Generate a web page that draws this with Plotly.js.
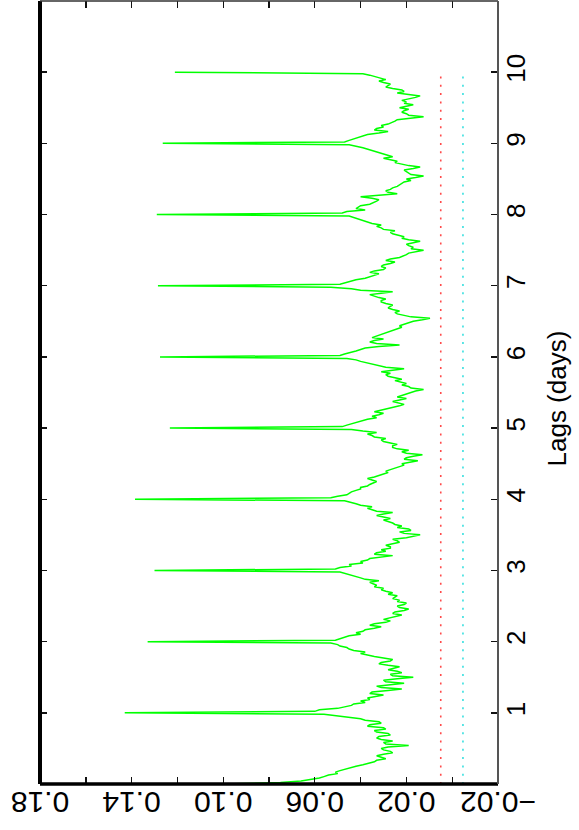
<!DOCTYPE html>
<html>
<head>
<meta charset="utf-8">
<script src="https://cdn.plot.ly/plotly-3.0.1.min.js"></script>
<style>html,body{margin:0;padding:0;background:#fff;}#chart{width:579px;height:830px;}</style>
</head>
<body>
<div id="chart"></div>
<script>
// Autocorrelation values, half-hour lag steps (48 per day)
const acfDay0 = [0.100,0.075,0.066,0.061,0.058,0.056,0.054,0.050,0.051,0.049,0.047,0.044,0.042,0.039,0.036,0.034,0.033,0.029,0.031,0.033,0.030,0.026,0.027,0.030,0.031,0.028,0.019,0.029,0.030,0.026,0.031,0.033,0.032,0.027,0.028,0.033,0.034,0.029,0.030,0.037,0.036,0.031,0.032,0.038,0.040,0.046,0.052,0.056];
const acfDay1 = [0.143,0.060,0.058,0.050,0.047,0.044,0.043,0.038,0.040,0.036,0.037,0.033,0.030,0.036,0.035,0.028,0.022,0.031,0.033,0.027,0.021,0.029,0.030,0.024,0.017,0.026,0.027,0.022,0.024,0.028,0.026,0.023,0.028,0.032,0.031,0.027,0.026,0.031,0.034,0.037,0.040,0.038,0.043,0.045,0.046,0.049,0.050,0.053];
const acfDay2 = [0.133,0.051,0.049,0.047,0.045,0.040,0.042,0.039,0.038,0.034,0.031,0.036,0.034,0.029,0.027,0.030,0.027,0.024,0.022,0.026,0.025,0.021,0.019,0.023,0.024,0.021,0.020,0.024,0.023,0.026,0.025,0.024,0.028,0.026,0.029,0.031,0.030,0.034,0.033,0.035,0.036,0.032,0.038,0.040,0.042,0.044,0.046,0.049];
const acfDay3 = [0.130,0.051,0.049,0.044,0.045,0.039,0.040,0.037,0.036,0.031,0.026,0.034,0.033,0.029,0.031,0.027,0.027,0.029,0.026,0.023,0.024,0.026,0.020,0.017,0.014,0.021,0.023,0.018,0.019,0.024,0.022,0.025,0.026,0.028,0.030,0.027,0.031,0.033,0.030,0.026,0.033,0.035,0.037,0.035,0.040,0.042,0.044,0.047];
const acfDay4 = [0.1385,0.053,0.050,0.046,0.045,0.044,0.042,0.040,0.040,0.037,0.036,0.034,0.033,0.035,0.037,0.034,0.032,0.030,0.028,0.029,0.027,0.025,0.024,0.021,0.022,0.019,0.015,0.021,0.020,0.017,0.013,0.020,0.022,0.019,0.024,0.026,0.026,0.024,0.028,0.030,0.031,0.029,0.034,0.035,0.037,0.033,0.039,0.044];
const acfDay5 = [0.1233,0.048,0.046,0.044,0.042,0.039,0.037,0.033,0.035,0.032,0.030,0.034,0.031,0.028,0.025,0.023,0.021,0.024,0.026,0.023,0.020,0.024,0.022,0.019,0.018,0.016,0.0125,0.018,0.019,0.022,0.020,0.023,0.025,0.022,0.026,0.028,0.029,0.027,0.031,0.027,0.021,0.029,0.032,0.035,0.037,0.040,0.042,0.046];
const acfDay6 = [0.1276,0.049,0.047,0.044,0.042,0.040,0.038,0.032,0.023,0.033,0.036,0.034,0.030,0.035,0.033,0.031,0.030,0.027,0.026,0.024,0.022,0.023,0.021,0.019,0.017,0.013,0.0097,0.018,0.022,0.024,0.025,0.023,0.026,0.028,0.027,0.026,0.029,0.031,0.031,0.029,0.032,0.034,0.036,0.031,0.026,0.040,0.044,0.053];
const acfDay7 = [0.1285,0.049,0.047,0.045,0.042,0.038,0.036,0.034,0.032,0.036,0.034,0.030,0.029,0.031,0.030,0.027,0.025,0.029,0.027,0.023,0.021,0.020,0.019,0.016,0.0125,0.018,0.017,0.019,0.020,0.017,0.014,0.019,0.022,0.021,0.024,0.026,0.027,0.025,0.030,0.031,0.033,0.031,0.035,0.037,0.038,0.040,0.042,0.045];
const acfDay8 = [0.129,0.048,0.046,0.038,0.042,0.041,0.040,0.036,0.034,0.033,0.032,0.035,0.040,0.030,0.024,0.028,0.029,0.027,0.026,0.024,0.023,0.022,0.021,0.018,0.020,0.016,0.0125,0.018,0.019,0.020,0.021,0.017,0.014,0.019,0.022,0.025,0.024,0.027,0.030,0.026,0.028,0.031,0.033,0.034,0.036,0.039,0.042,0.045];
const acfDay9 = [0.1264,0.047,0.045,0.043,0.041,0.039,0.037,0.032,0.028,0.034,0.033,0.030,0.031,0.028,0.026,0.025,0.024,0.018,0.0125,0.019,0.020,0.022,0.021,0.019,0.023,0.020,0.017,0.021,0.020,0.022,0.018,0.016,0.014,0.020,0.024,0.021,0.022,0.026,0.029,0.028,0.027,0.030,0.032,0.029,0.031,0.034,0.036,0.039];
const acfDay10 = [0.1211];
const lagStepDays = 1 / 48;

// Significance levels (dotted lines) and their lag span
const sigLags = [0, 10];
const sigUpper = [0.005, 0.005];
const sigLower = [-0.0047, -0.0047];

// Tick labels
const acfTickVals = [0.18, 0.16, 0.14, 0.12, 0.10, 0.08, 0.06, 0.04, 0.02, 0.00, -0.02];
const acfTickText = ['0.18', '', '0.14', '', '0.10', '', '0.06', '', '0.02', '', '\u22120.02'];
const lagTickVals = [1, 2, 3, 4, 5, 6, 7, 8, 9, 10];
const lagTickText = ['1', '2', '3', '4', '5', '6', '7', '8', '9', '10'];
const lagTitle = 'Lags (days)';

const acf = [].concat(acfDay0, acfDay1, acfDay2, acfDay3, acfDay4, acfDay5, acfDay6, acfDay7, acfDay8, acfDay9, acfDay10);
const lags = acf.map((_, i) => i * lagStepDays);

const traces = [
  {x: sigUpper, y: sigLags, mode: 'lines', line: {color: '#ff4a4a', width: 1.6, dash: '2px,6.3px'}, hoverinfo: 'skip'},
  {x: sigLower, y: sigLags, mode: 'lines', line: {color: '#38e0e0', width: 1.6, dash: '2px,6.3px'}, hoverinfo: 'skip'},
  {x: acf, y: lags, mode: 'lines', line: {color: '#00ff00', width: 1.5}, hoverinfo: 'skip'}
];

const border = (x0, y0, x1, y1, w, c) => ({type: 'line', xref: 'paper', yref: 'paper', x0, y0, x1, y1, line: {color: c, width: w}});

const layout = {
  width: 579, height: 830,
  margin: {l: 40, r: 81, t: 1, b: 46, pad: 0},
  paper_bgcolor: '#ffffff', plot_bgcolor: '#ffffff',
  showlegend: false,
  font: {family: 'Liberation Sans, Arial, sans-serif', color: '#000'},
  xaxis: {
    range: [0.18, -0.02], tickmode: 'array', tickvals: acfTickVals, ticktext: acfTickText,
    tickangle: 180, ticks: 'inside', ticklen: 7, tickwidth: 1.4, tickcolor: '#111',
    mirror: 'ticks', showline: false, showgrid: false, zeroline: false,
    ticklabelstandoff: 7,
    tickfont: {size: 30, color: '#000'}
  },
  yaxis: {
    range: [0, 11], side: 'right', tickmode: 'array', tickvals: lagTickVals, ticktext: lagTickText,
    tickangle: -90, ticks: 'inside', ticklen: 7, tickwidth: 1.4, tickcolor: '#111',
    mirror: 'ticks', showline: false, showgrid: false, zeroline: false,
    tickfont: {size: 26, color: '#000'}
  },
  shapes: [
    border(0, 0, 0, 1, 4, '#000'),
    border(0, 0, 1, 0, 3.5, '#000'),
    border(0, 1, 1, 1, 1.5, '#333'),
    border(1, 0, 1, 1, 2, '#555')
  ],
  annotations: [{
    text: lagTitle, xref: 'paper', yref: 'paper', x: 1, y: 0.5, xanchor: 'center', yanchor: 'middle',
    xshift: 58, yshift: -6, textangle: -90, showarrow: false, font: {size: 26, color: '#000'}
  }]
};

Plotly.newPlot('chart', traces, layout, {staticPlot: true, displayModeBar: false});
</script>
</body>
</html>
